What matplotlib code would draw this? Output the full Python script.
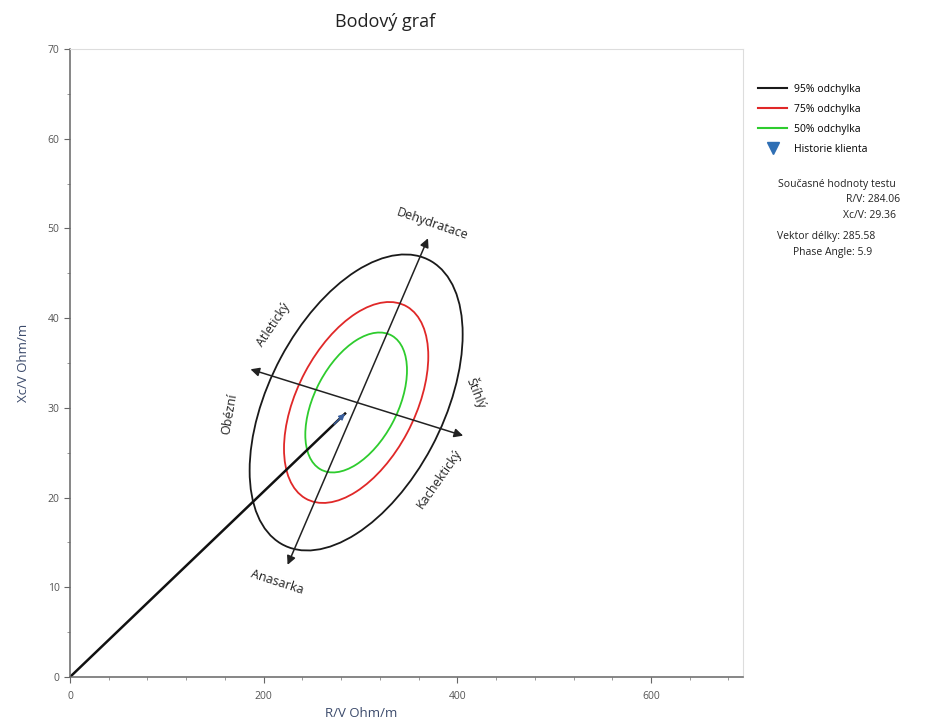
import numpy as np
import matplotlib
matplotlib.use("Agg")
import matplotlib.pyplot as plt
from matplotlib.patches import Circle
from matplotlib.lines import Line2D
from matplotlib.transforms import Affine2D
from matplotlib.ticker import MultipleLocator

plt.rcParams['font.family'] = ['Open Sans', 'DejaVu Sans']

# tolerance ellipses (data units)
levels = ["95% odchylka", "75% odchylka", "50% odchylka"]
level_colors = ["#1a1a1a", "#e02828", "#2ecc2e"]
half_width_r = [110.0, 74.5, 52.5]      # R/V half extent
half_height_xc = [16.5, 11.2, 7.8]      # Xc/V half extent
center = (295.5, 30.6)
rho = 0.46                               # tilt of the ellipses

# axis arrows through the centre
long_axis = [(224.7, 12.5), (369.7, 48.9)]   # Anasarka -> Dehydratace
short_axis = [(406.0, 26.9), (186.4, 34.3)]  # Stihly -> Obezni

# current test values
rv = 284.06
xcv = 29.36
vector_len = 285.58
phase_angle = 5.9

# labels: text, x, y, rotation
axis_labels = [
    ("Dehydratace", 374, 50.5, -19),
    ("Anasarka", 214, 10.6, -18),
    ("Obézní", 165, 29.3, 80),
    ("Atletický", 210, 39.2, 56),
    ("Štíhlý", 420, 31.7, -68),
    ("Kachektický", 381, 22.1, 55),
]

fig = plt.figure(figsize=(9.43, 7.25), dpi=100)
ax = fig.add_axes([70/943, 48/725, 673/943, 628/725])

for lab, col, hw, hh in zip(levels, level_colors, half_width_r, half_height_xc):
    m = np.array([[hw, 0, center[0]],
                  [hh*rho, hh*np.sqrt(1-rho**2), center[1]],
                  [0, 0, 1]])
    tr = Affine2D(m) + ax.transData
    ax.add_patch(Circle((0, 0), 1, transform=tr, fill=False, ec=col, lw=1.3))

for a, b in (long_axis, short_axis):
    ax.annotate("", xy=b, xytext=a,
                arrowprops=dict(arrowstyle="<|-|>", color="#222222", lw=1.1,
                                mutation_scale=13, shrinkA=0, shrinkB=0))

# impedance vector
ax.plot([0, rv], [0, xcv], color="#111111", lw=1.8)
ax.annotate("", xy=(rv, xcv), xytext=(rv*0.96, xcv*0.96),
            arrowprops=dict(arrowstyle="-|>", color="#3a5f9e", lw=1.0,
                            mutation_scale=9, shrinkA=0, shrinkB=0))

for txt, x, y, rot in axis_labels:
    ax.text(x, y, txt, rotation=rot, ha="center", va="center",
            fontsize=9, color="#222222")

ax.set_xlim(0, 695)
ax.set_ylim(0, 70)
ax.xaxis.set_major_locator(MultipleLocator(200))
ax.xaxis.set_minor_locator(MultipleLocator(40))
ax.yaxis.set_major_locator(MultipleLocator(10))
ax.yaxis.set_minor_locator(MultipleLocator(5))
ax.tick_params(which="major", length=4, color="#666666", labelsize=7.5,
               labelcolor="#555555")
ax.tick_params(which="minor", length=2, color="#888888")
ax.tick_params(axis="x", pad=6)
for s in ("left", "bottom"):
    ax.spines[s].set_color("#666666")
    ax.spines[s].set_linewidth(1.1)
for s in ("top", "right"):
    ax.spines[s].set_color("#dddddd")

ax.set_xlabel("R/V Ohm/m", fontsize=9.5, color="#3b4a6b")
ax.xaxis.set_label_coords(0.432, -0.047)
ax.set_ylabel("Xc/V Ohm/m", fontsize=9.5, color="#3b4a6b", labelpad=13)
fig.text(385/943, 1-22/725, "Bodový graf", ha="center", va="center",
         fontsize=13, color="#222222")

handles = [Line2D([], [], color=c, lw=1.5) for c in level_colors]
handles.append(Line2D([], [], color="#2f6fb4", marker="v", ls="none", markersize=8))
fig.legend(handles, levels + ["Historie klienta"], loc="upper left",
           bbox_to_anchor=(758/943, 1-84/725), frameon=False, fontsize=7.5,
           handlelength=2.8, handletextpad=0.7, labelspacing=0.86,
           borderaxespad=0, borderpad=0)

info = [
    ("Současné hodnoty testu", 778, 184),
    ("R/V: {:.2f}".format(rv), 846, 200),
    ("Xc/V: {:.2f}".format(xcv), 843, 216),
    ("Vektor délky: {:.2f}".format(vector_len), 777, 236),
    ("Phase Angle: {}".format(phase_angle), 793, 253),
]
for txt, x, y in info:
    fig.text(x/943, 1-y/725, txt, ha="left", va="center", fontsize=7.5,
             color="#222222")

fig.savefig("out.png", dpi=100)
